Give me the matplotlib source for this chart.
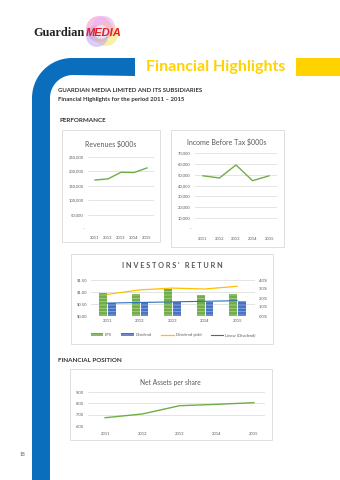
import numpy as np
import matplotlib
matplotlib.use('Agg')
import matplotlib.pyplot as plt
from matplotlib.patches import Rectangle, PathPatch, Circle, Patch
from matplotlib.path import Path
from matplotlib.lines import Line2D
from matplotlib.ticker import FuncFormatter

plt.rcParams['font.family'] = ['Lato', 'DejaVu Sans']
plt.rcParams['hatch.linewidth'] = 0.6

# ---- data ----
years = ['2011', '2012', '2013', '2014', '2015']
revenues = [170000, 174000, 197000, 196000, 212000]
income_before_tax = [49000, 47000, 59000, 44500, 49000]
eps = [0.95, 0.90, 1.12, 0.87, 0.92]
dividend = [0.53, 0.57, 0.60, 0.60, 0.64]
dividend_yield = [0.024, 0.029, 0.031, 0.030, 0.033]
net_assets = [6.73, 7.06, 7.79, 7.91, 8.06]

W, H = 340, 480
GREY = '#595959'
GRID = '#D9D9D9'
GREEN = '#70AD47'
BLUE = '#4472C4'
GOLD = '#FFC000'
BAND = '#0A6EBD'
YELLOW = '#FFD200'

def rect(x0, y0, x1, y1):
    return [x0 / W, 1 - y1 / H, (x1 - x0) / W, (y1 - y0) / H]

fig = plt.figure(figsize=(W / 100, H / 100), dpi=100)
page = fig.add_axes([0, 0, 1, 1])
page.set_xlim(0, W)
page.set_ylim(H, 0)
page.axis('off')

# blue band with rounded corner
ro, ri = 40, 23
t = np.linspace(np.pi, 1.5 * np.pi, 20)
outer = np.column_stack([72 + ro * np.cos(t), 98 + ro * np.sin(t)])
inner = np.column_stack([73 + ri * np.cos(t[::-1]), 98 + ri * np.sin(t[::-1])])
pts = np.vstack([[[32, 480]], outer, [[135, 58], [135, 76]], inner, [[50, 480]]])
page.add_patch(PathPatch(Path(np.vstack([pts, pts[:1]]), closed=True), fc=BAND, ec='none'))
page.add_patch(Rectangle((296, 58), 44, 18, fc=YELLOW, ec='none'))
page.text(216, 67, 'Financial Highlights', color=YELLOW, fontsize=11.5, fontweight='bold',
          ha='center', va='center')

# logo
for (cx, cy, r, c) in [(99, 29, 13, '#F48FD0'), (106, 34, 12, '#F6E35A'),
                       (97, 36, 11, '#B9A7F0'), (104, 27, 11, '#E9B0F4'), (101, 32, 7, '#FFFFFF')]:
    page.add_patch(Circle((cx, cy), r, fc=c, ec='none', alpha=0.55))
page.text(33, 33, 'Guardian', family='Liberation Serif', fontweight='bold', fontsize=8.8,
          color='#222222', va='center', ha='left')
page.text(86, 33, 'MEDIA', family='Liberation Sans', fontweight='bold', style='italic',
          fontsize=8.0, color='#E31E24', va='center', ha='left')

# headings
page.text(58, 91, 'GUARDIAN MEDIA LIMITED AND ITS SUBSIDIARIES', fontsize=4.3,
          fontweight='bold', color='#333333', va='center')
page.text(58, 99, 'Financial Highlights for the period 2011 \u2013 2015', fontsize=4.3,
          fontweight='bold', color='#333333', va='center')
page.text(60, 121, 'PERFORMANCE', fontsize=4.5, fontweight='bold', color='#333333', va='center')
page.text(58, 360, 'FINANCIAL POSITION', fontsize=4.5, fontweight='bold', color='#333333', va='center')
page.text(22, 455, '18', fontsize=3.5, color=GREY, ha='center', va='center')

# chart frames
for (x0, y0, x1, y1) in [(62, 130, 160, 242), (171, 130, 284, 247),
                         (71, 254, 273, 344), (70, 369, 272, 440)]:
    page.add_patch(Rectangle((x0, y0), x1 - x0, y1 - y0, fc='white', ec=GRID, lw=0.6))

page.text(111, 144, 'Revenues $000s', fontsize=5, color=GREY, ha='center', va='center')
page.text(227, 142, 'Income Before Tax $000s', fontsize=5, color=GREY, ha='center', va='center')
page.text(172, 265, "I N V E S T O R S '   R E T U R N", fontsize=5.3, fontweight='bold',
          color=GREY, ha='center', va='center')
page.text(170, 382, 'Net Assets per share', fontsize=4.8, color=GREY, ha='center', va='center')

def style(ax, xpad=4, ypad=3):
    ax.set_facecolor('none')
    for s in ax.spines.values():
        s.set_visible(False)
    ax.tick_params(length=0, labelsize=3, colors=GREY)
    ax.tick_params(axis='x', pad=xpad)
    ax.tick_params(axis='y', pad=ypad)
    ax.grid(axis='y', color=GRID, lw=0.5)
    ax.set_axisbelow(True)

x = np.arange(len(years))
thousands = FuncFormatter(lambda v, p: '-' if v == 0 else f'{v:,.0f}')

ax1 = fig.add_axes(rect(88, 157, 154, 229))
style(ax1, xpad=5)
ax1.plot(x, revenues, color=GREEN, lw=1)
ax1.set_xlim(-0.54, 4.54)
ax1.set_ylim(0, 250000)
ax1.set_yticks(np.arange(0, 250001, 50000))
ax1.yaxis.set_major_formatter(thousands)
ax1.set_xticks(x)
ax1.set_xticklabels(years)

ax2 = fig.add_axes(rect(195, 153, 277, 229))
style(ax2, xpad=6)
ax2.plot(x, income_before_tax, color=GREEN, lw=1)
ax2.set_xlim(-0.48, 4.48)
ax2.set_ylim(0, 70000)
ax2.set_yticks(np.arange(0, 70001, 10000))
ax2.yaxis.set_major_formatter(thousands)
ax2.set_xticks(x)
ax2.set_xticklabels(years)

ax3 = fig.add_axes(rect(91, 280, 255, 316))
style(ax3, xpad=2)
bw = 0.24
ax3.bar(x - 0.12, eps, bw, color=GREEN, edgecolor='#A9D18E', lw=0, hatch='-----', label='EPS')
ax3.bar(x + 0.15, dividend, bw, color=BLUE, edgecolor='#8FAADC', lw=0, hatch='-----', label='Dividend')
trend = np.polyval(np.polyfit(x, dividend, 1), x)
ax3.plot(x, trend, color='#2F6EBA', lw=0.8, zorder=4)
ax3.set_xlim(-0.5, 4.55)
ax3.set_ylim(0, 1.5)
ax3.set_yticks([0, 0.5, 1.0, 1.5])
ax3.yaxis.set_major_formatter(FuncFormatter(lambda v, p: f'${v:.2f}'))
ax3.set_xticks(x)
ax3.set_xticklabels(years)
ax3r = ax3.twinx()
style(ax3r)
ax3r.grid(False)
ax3r.plot(x, dividend_yield, color=GOLD, lw=0.9)
ax3r.set_ylim(0, 0.04)
ax3r.set_yticks(np.arange(0, 0.0401, 0.01))
ax3r.yaxis.set_major_formatter(FuncFormatter(lambda v, p: f'{v * 100:.1f}%'))
handles = [Patch(fc=GREEN, ec='#A9D18E', lw=0, hatch='-----'),
           Patch(fc=BLUE, ec='#8FAADC', lw=0, hatch='-----'),
           Line2D([], [], color=GOLD, lw=0.9),
           Line2D([], [], color='#2F6EBA', lw=0.8)]
fig.legend(handles, ['EPS', 'Dividend', 'Dividend yield', 'Linear (Dividend)'],
           loc='center', bbox_to_anchor=(173 / W, 1 - 335 / H), ncol=4, fontsize=3,
           frameon=False, handlelength=3, handleheight=0.6, columnspacing=2.2,
           handletextpad=0.5, labelcolor=GREY)

ax4 = fig.add_axes(rect(88, 392, 265, 426))
style(ax4, xpad=4)
ax4.plot(x, net_assets, color=GREEN, lw=1)
ax4.set_xlim(-0.46, 4.3)
ax4.set_ylim(6, 9)
ax4.set_yticks([6, 7, 8, 9])
ax4.yaxis.set_major_formatter(FuncFormatter(lambda v, p: f'{v:.2f}'))
ax4.set_xticks(x)
ax4.set_xticklabels(years)

fig.savefig('out.png', dpi=100)
